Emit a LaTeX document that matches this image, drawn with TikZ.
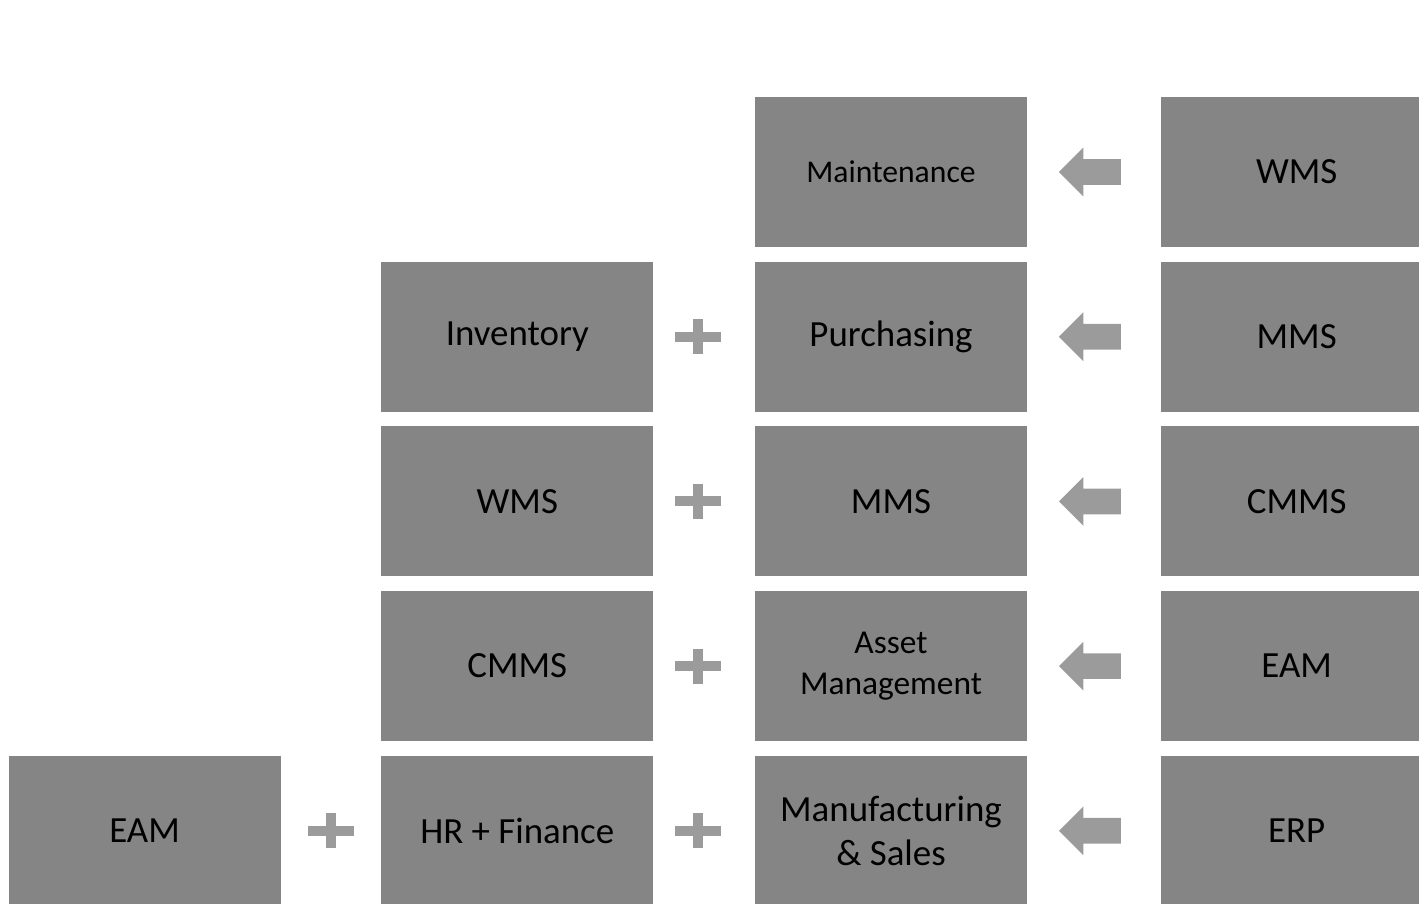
\documentclass[tikz,border=0pt]{standalone}
\usepackage{fontspec}
\setmainfont{Carlito}
\usetikzlibrary{positioning,shapes.arrows,calc}

\definecolor{boxgray}{HTML}{858585}
\definecolor{signgray}{HTML}{9B9B9B}

\tikzset{
  block/.style={fill=boxgray, minimum width=5.44cm, minimum height=3cm,
    inner sep=0pt, align=center, font=\fontsize{21}{25}\selectfont},
  backarrow/.style={single arrow, shape border rotate=180, fill=signgray,
    minimum height=1.24cm, inner xsep=0pt, inner ysep=0.25cm,
    single arrow head extend=0.23cm},
  plussign/.pic={
    \fill[signgray] (-0.46,-0.1) rectangle (0.46,0.1);
    \fill[signgray] (-0.1,-0.35) rectangle (0.1,0.35);
  }
}

\begin{document}
\begin{tikzpicture}
  \useasboundingbox (0,0) rectangle (28.38,-18.06);
  \clip (0,0) rectangle (28.38,-18.06);

  % middle column
  \node[block, font=\fontsize{18}{22}\selectfont] (maint) at (17.82,-3.44) {Maintenance};
  \node[block, below=0.28cm of maint] (purch) {Purchasing};
  \node[block, below=0.28cm of purch] (mmsc) {MMS};
  \node[block, below=0.28cm of mmsc, font=\fontsize{19}{23}\selectfont] (asset) {Asset\\Management};
  \node[block, below=0.28cm of asset] (manuf) {Manufacturing\\\& Sales};

  % left columns
  \node[block, left=2.02cm of purch] (inv) {Inventory};
  \node[block, left=2.02cm of mmsc] (wmsl) {WMS};
  \node[block, left=2.02cm of asset] (cmmsl) {CMMS};
  \node[block, left=2.02cm of manuf] (hrfin) {HR + Finance};
  \node[block, left=2cm of hrfin] (eaml) {EAM};

  % right column
  \node[block, right=2.66cm of maint] (wmsr) {WMS};
  \node[block, right=2.66cm of purch] (mmsr) {MMS};
  \node[block, right=2.66cm of mmsc] (cmmsr) {CMMS};
  \node[block, right=2.66cm of asset] (eamr) {EAM};
  \node[block, right=2.66cm of manuf] (erp) {ERP};

  % arrows
  \foreach \a/\b in {maint/wmsr, purch/mmsr, mmsc/cmmsr, asset/eamr, manuf/erp}
    \node[backarrow] (to\a) at ($(\a.east)!0.5!(\b.west)+(0.05,0)$) {};

  % plus signs
  \foreach \a/\b in {inv/purch, wmsl/mmsc, cmmsl/asset, hrfin/manuf}
    \pic at ($(\a.east)!0.5!(\b.west)+(-0.12,0)$) {plussign};
  \pic at ($(eaml.east)!0.5!(hrfin.west)$) {plussign};
\end{tikzpicture}
\end{document}
